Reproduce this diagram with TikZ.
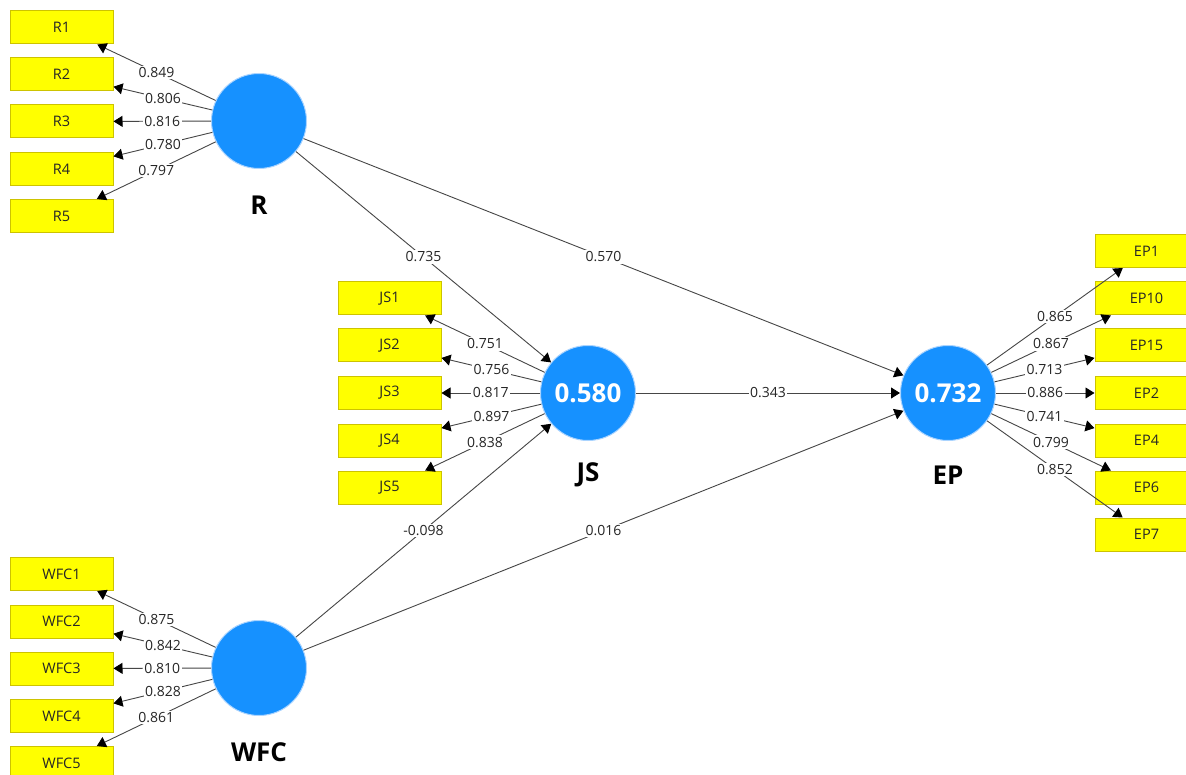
\documentclass[tikz,border=0pt]{standalone}
\usepackage{fontspec}
\setmainfont{Open Sans}
\usetikzlibrary{arrows.meta}

\definecolor{indyellow}{RGB}{255,255,0}
\definecolor{indborder}{RGB}{205,195,0}
\definecolor{latblue}{RGB}{22,145,255}
\definecolor{latring}{RGB}{170,212,255}
\definecolor{linegray}{RGB}{70,70,70}
\definecolor{textdark}{RGB}{38,38,38}

\tikzset{
  ind/.style={rectangle, fill=indyellow, draw=indborder, line width=1pt,
    minimum width=103pt, minimum height=33pt, inner sep=0pt,
    font=\fontsize{14.5}{16}\selectfont, text=textdark},
  lat/.style={circle, fill=latblue, draw=latring, line width=1pt,
    minimum size=95pt, inner sep=0pt,
    font=\fontsize{26}{30}\selectfont\bfseries, text=white},
  latname/.style={font=\fontsize{26}{30}\selectfont\bfseries, text=black},
  link/.style={draw=linegray, line width=0.9pt,
    -{Triangle[length=9pt,width=11pt,color=black]}},
  wlab/.style={midway, fill=white, inner sep=1.5pt,
    font=\fontsize{14}{16}\selectfont, text=textdark}
}

\begin{document}
\begin{tikzpicture}[x=1pt,y=-1pt]
\clip (0,0) rectangle (1186,775);
\fill[white] (0,0) rectangle (1186,775);

% latent variables
\node[lat] (R)   at (259,121) {};
\node[lat] (WFC) at (259,668) {};
\node[lat] (JS)  at (588,393) {0.580};
\node[lat] (EP)  at (948,393) {0.732};

\node[latname] (Rn)   at (259,205) {R};
\node[latname] (WFCn) at (259,752) {WFC};
\node[latname] (JSn)  at (588,475) {JS};
\node[latname] (EPn)  at (948,475) {EP};

% indicators of R
\node[ind] (R1) at (61.5,27.5)  {R1};
\node[ind] (R2) at (61.5,74.5)  {R2};
\node[ind] (R3) at (61.5,121.5) {R3};
\node[ind] (R4) at (61.5,169)   {R4};
\node[ind] (R5) at (61.5,216)   {R5};

% indicators of WFC
\node[ind] (WFC1) at (61.5,574)   {WFC1};
\node[ind] (WFC2) at (61.5,621.5) {WFC2};
\node[ind] (WFC3) at (61.5,668.5) {WFC3};
\node[ind] (WFC4) at (61.5,716)   {WFC4};
\node[ind] (WFC5) at (61.5,763)   {WFC5};

% indicators of JS
\node[ind] (JS1) at (389.5,298.5) {JS1};
\node[ind] (JS2) at (389.5,345.5) {JS2};
\node[ind] (JS3) at (389.5,393)   {JS3};
\node[ind] (JS4) at (389.5,440.5) {JS4};
\node[ind] (JS5) at (389.5,487.5) {JS5};

% indicators of EP
\node[ind] (EP1)  at (1146.5,251)   {EP1};
\node[ind] (EP10) at (1146.5,298.5) {EP10};
\node[ind] (EP15) at (1146.5,345.5) {EP15};
\node[ind] (EP2)  at (1146.5,393)   {EP2};
\node[ind] (EP4)  at (1146.5,440.5) {EP4};
\node[ind] (EP6)  at (1146.5,487.5) {EP6};
\node[ind] (EP7)  at (1146.5,534.5) {EP7};

% outer loadings
\draw[link] (R) -- node[wlab]{0.849} (R1);
\draw[link] (R) -- node[wlab]{0.806} (R2);
\draw[link] (R) -- node[wlab]{0.816} (R3);
\draw[link] (R) -- node[wlab]{0.780} (R4);
\draw[link] (R) -- node[wlab]{0.797} (R5);

\draw[link] (WFC) -- node[wlab]{0.875} (WFC1);
\draw[link] (WFC) -- node[wlab]{0.842} (WFC2);
\draw[link] (WFC) -- node[wlab]{0.810} (WFC3);
\draw[link] (WFC) -- node[wlab]{0.828} (WFC4);
\draw[link] (WFC) -- node[wlab]{0.861} (WFC5);

\draw[link] (JS) -- node[wlab]{0.751} (JS1);
\draw[link] (JS) -- node[wlab]{0.756} (JS2);
\draw[link] (JS) -- node[wlab]{0.817} (JS3);
\draw[link] (JS) -- node[wlab]{0.897} (JS4);
\draw[link] (JS) -- node[wlab]{0.838} (JS5);

\draw[link] (EP) -- node[wlab]{0.865} (EP1);
\draw[link] (EP) -- node[wlab]{0.867} (EP10);
\draw[link] (EP) -- node[wlab]{0.713} (EP15);
\draw[link] (EP) -- node[wlab]{0.886} (EP2);
\draw[link] (EP) -- node[wlab]{0.741} (EP4);
\draw[link] (EP) -- node[wlab]{0.799} (EP6);
\draw[link] (EP) -- node[wlab]{0.852} (EP7);

% structural paths
\draw[link] (R)   -- node[wlab]{0.735}  (JS);
\draw[link] (R)   -- node[wlab]{0.570}  (EP);
\draw[link] (JS)  -- node[wlab]{0.343}  (EP);
\draw[link] (WFC) -- node[wlab]{-0.098} (JS);
\draw[link] (WFC) -- node[wlab]{0.016}  (EP);
\end{tikzpicture}
\end{document}
